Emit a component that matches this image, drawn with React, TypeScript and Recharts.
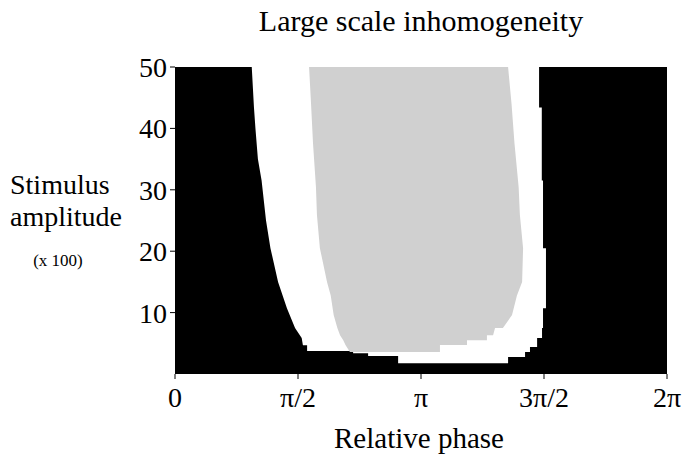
import React from 'react';
import { ComposedChart, Area, XAxis, YAxis, CartesianGrid } from 'recharts';

// Phase is in units of pi (0..2), amplitude in units of 100
const phaseTicks = [0, 0.5, 1, 1.5, 2];
const phaseTickLabels = ['0', 'π/2', 'π', '3π/2', '2π'];
const amplitudeTicks = [10, 20, 30, 40, 50];

// White region: for each amplitude, phase range [left, right]
const whiteAmp = [1.74, 2.76, 2.76, 2.93, 2.93, 3.37, 3.37, 3.58, 3.58, 3.74, 3.74, 4.39, 4.39, 4.7, 4.7, 5.85, 5.85, 7.48, 7.48, 10.7, 10.7, 15, 20.5, 20.5, 25, 31.5, 31.5, 35, 40, 43.4, 43.4, 50];
const whiteLeft = [0.907, 0.907, 0.907, 0.907, 0.785, 0.785, 0.724, 0.724, 0.724, 0.724, 0.537, 0.537, 0.537, 0.537, 0.52, 0.515, 0.515, 0.488, 0.488, 0.455, 0.455, 0.419, 0.388, 0.388, 0.37, 0.352, 0.352, 0.337, 0.327, 0.321, 0.321, 0.312];
const whiteRight = [1.354, 1.354, 1.423, 1.423, 1.423, 1.423, 1.423, 1.423, 1.443, 1.443, 1.443, 1.443, 1.472, 1.472, 1.472, 1.472, 1.492, 1.492, 1.496, 1.496, 1.508, 1.508, 1.508, 1.496, 1.496, 1.496, 1.491, 1.491, 1.491, 1.491, 1.48, 1.48];

// Gray region
const grayAmp = [3.58, 4.72, 4.72, 5.5, 5.5, 6.3, 6.3, 7.5, 7.5, 9.6, 12.8, 15, 20.5, 25.9, 30.4, 37.6, 44, 50];
const grayLeft = [0.711, 0.693, 0.693, 0.684, 0.684, 0.671, 0.671, 0.66, 0.66, 0.645, 0.633, 0.618, 0.589, 0.577, 0.573, 0.561, 0.553, 0.545];
const grayRight = [1.077, 1.077, 1.187, 1.187, 1.268, 1.268, 1.293, 1.301, 1.333, 1.37, 1.39, 1.411, 1.415, 1.402, 1.397, 1.38, 1.368, 1.354];

const serif = '"Liberation Serif", "Times New Roman", serif';

const App: React.FC = () => {
  const whiteData = whiteAmp.map((amp, i) => ({ amp, range: [whiteLeft[i], whiteRight[i]] }));
  const grayData = grayAmp.map((amp, i) => ({ amp, range: [grayLeft[i], grayRight[i]] }));

  return (
    <div style={{ position: 'absolute', left: 0, top: 0, width: 683, height: 456, background: '#fff' }}>
      <ComposedChart
        width={683}
        height={456}
        layout="vertical"
        margin={{ top: 67, right: 16, left: 0, bottom: 0 }}
      >
        <CartesianGrid horizontal={false} vertical={false} fill="#000" />
        <XAxis
          type="number"
          dataKey="range"
          domain={[0, 2]}
          ticks={phaseTicks}
          interval={0}
          height={82}
          axisLine={false}
          tickLine={{ stroke: '#000' }}
          tickSize={5}
          tickMargin={8}
          tickFormatter={(v) => phaseTickLabels[phaseTicks.indexOf(v)]}
          tick={{ fill: '#000', fontSize: 28, fontFamily: serif }}
          allowDataOverflow
        />
        {/* vertical layout runs the category axis top-down, so flip it */}
        <YAxis
          type="number"
          dataKey="amp"
          domain={[0, 50]}
          reversed
          ticks={amplitudeTicks}
          interval={0}
          width={175}
          axisLine={false}
          tickLine={{ stroke: '#000' }}
          tickSize={5}
          tickMargin={3}
          tick={{ fill: '#000', fontSize: 28, fontFamily: serif }}
          allowDataOverflow
        />
        <Area
          data={whiteData}
          dataKey="range"
          type="linear"
          fill="#ffffff"
          fillOpacity={1}
          stroke="none"
          dot={false}
          activeDot={false}
          isAnimationActive={false}
        />
        <Area
          data={grayData}
          dataKey="range"
          type="linear"
          fill="#d0d0d0"
          fillOpacity={1}
          stroke="none"
          dot={false}
          activeDot={false}
          isAnimationActive={false}
        />
        <text x={421} y={31} textAnchor="middle" fontSize={30} fontFamily={serif} fill="#000">
          Large scale inhomogeneity
        </text>
        <text x={10} y={194} fontSize={28} fontFamily={serif} fill="#000">Stimulus</text>
        <text x={10} y={226} fontSize={28} fontFamily={serif} fill="#000">amplitude</text>
        <text x={58} y={266} textAnchor="middle" fontSize={17} fontFamily={serif} fill="#000">(x 100)</text>
        <text x={419} y={448} textAnchor="middle" fontSize={29} fontFamily={serif} fill="#000">
          Relative phase
        </text>
      </ComposedChart>
    </div>
  );
};

export default App;
